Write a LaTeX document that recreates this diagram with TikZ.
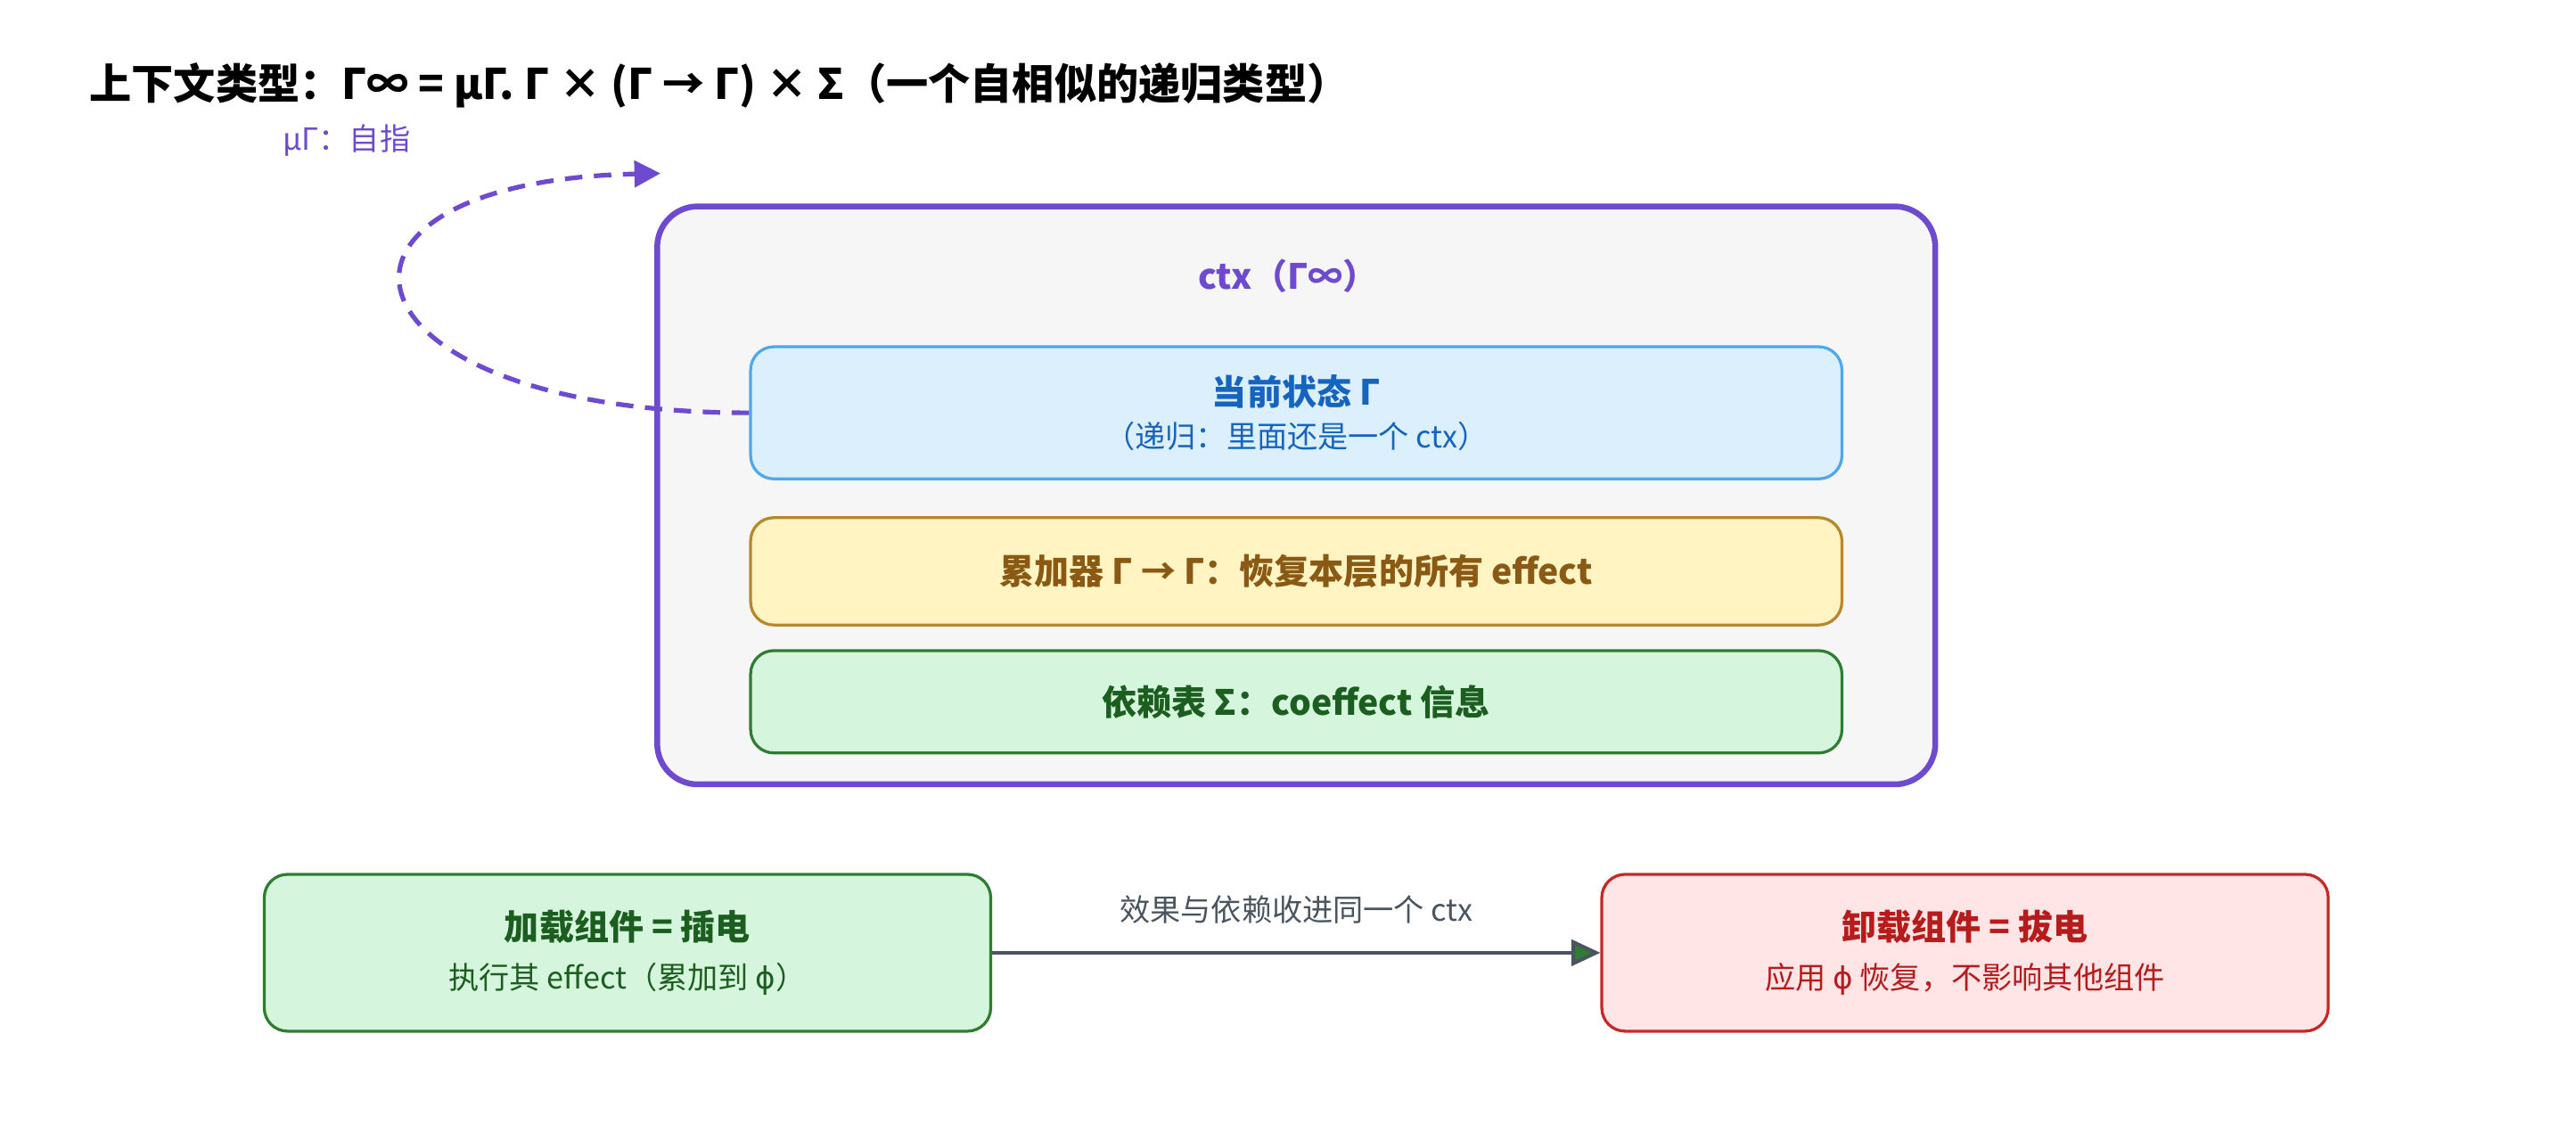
\documentclass[tikz,border=0pt]{standalone}
\usepackage{fontspec}
\setmainfont{Noto Sans CJK SC}
\newfontfamily\symfont{DejaVu Sans}
\newcommand{\phisym}{{\symfont ϕ}}
\usetikzlibrary{positioning,arrows.meta}
\definecolor{purp}{HTML}{6E4AD0}
\definecolor{bluefill}{HTML}{DBF0FC}
\definecolor{blueline}{HTML}{4DA8EF}
\definecolor{bluetext}{HTML}{1565C0}
\definecolor{yelfill}{HTML}{FFF4C2}
\definecolor{yelline}{HTML}{B8862B}
\definecolor{yeltext}{HTML}{8A5A14}
\definecolor{grnfill}{HTML}{D6F5DD}
\definecolor{grnline}{HTML}{2E7D32}
\definecolor{grntext}{HTML}{1B5E20}
\definecolor{redfill}{HTML}{FFE5E5}
\definecolor{redline}{HTML}{C62828}
\definecolor{redtext}{HTML}{B71C1C}
\definecolor{greyline}{HTML}{4A5560}
\tikzset{
  layer/.style={draw, rounded corners=8pt, line width=1pt, minimum width=13.22cm, align=center},
  part/.style={draw, rounded corners=8pt, line width=1pt, minimum width=8.8cm, minimum height=1.9cm, align=center},
  big/.style={font=\fontsize{12}{15}\selectfont\bfseries},
  small/.style={font=\fontsize{10.5}{13}\selectfont}
}
\begin{document}
\begin{tikzpicture}[x=0.02cm, y=-0.02cm]
\useasboundingbox (0,0) rectangle (1560,690);
% title
\node[anchor=west, font=\fontsize{14.5}{17}\selectfont\bfseries] (title) at (48,52)
  {上下文类型：Γ∞ = μΓ. Γ × (Γ → Γ) × Σ（一个自相似的递归类型）};
\node[anchor=west, text=purp, small] (mu) at (165,85) {μΓ：自指};
% outer ctx box
\draw[purp, line width=2pt, fill=gray!7, rounded corners=14pt] (398,125) rectangle (1172,475);
\node[text=purp, big] (ctx) at (780,167) {ctx（Γ∞）};
% three layers
\node[layer, fill=bluefill, draw=blueline, text=bluetext, minimum height=1.6cm] (state) at (785,250)
  {{\fontsize{12}{15}\selectfont\bfseries 当前状态 Γ}\\[3pt]{\fontsize{10.5}{13}\selectfont （递归：里面还是一个 ctx）}};
\node[layer, fill=yelfill, draw=yelline, text=yeltext, minimum height=1.3cm, big] (acc) at (785,346)
  {累加器 Γ → Γ：恢复本层的所有 effect};
\node[layer, fill=grnfill, draw=grnline, text=grntext, minimum height=1.24cm, big] (deps) at (785,425)
  {依赖表 Σ：coeffect 信息};
% self reference loop
\coordinate (loopend) at (400,105);
\draw[purp, line width=1.6pt, dash pattern=on 6pt off 4pt, -{Triangle[length=9pt,width=9pt]}]
  (state.west) .. controls (200,250) and (170,110) .. (loopend);
% bottom components
\node[part, fill=grnfill, draw=grnline, text=grntext] (load) at (380,577)
  {{\fontsize{12}{15}\selectfont\bfseries 加载组件 = 插电}\\[5pt]{\fontsize{10.5}{13}\selectfont 执行其 effect（累加到 \phisym）}};
\node[part, fill=redfill, draw=redline, text=redtext] (unload) at (1190,577)
  {{\fontsize{12}{15}\selectfont\bfseries 卸载组件 = 拔电}\\[5pt]{\fontsize{10.5}{13}\selectfont 应用 \phisym\ 恢复，不影响其他组件}};
\draw[greyline, line width=1.3pt, -{Triangle[length=10pt,width=9pt,fill=grnline]}] (load) -- (unload)
  node[midway, above=6pt, small, text=greyline] {效果与依赖收进同一个 ctx};
\end{tikzpicture}
\end{document}
